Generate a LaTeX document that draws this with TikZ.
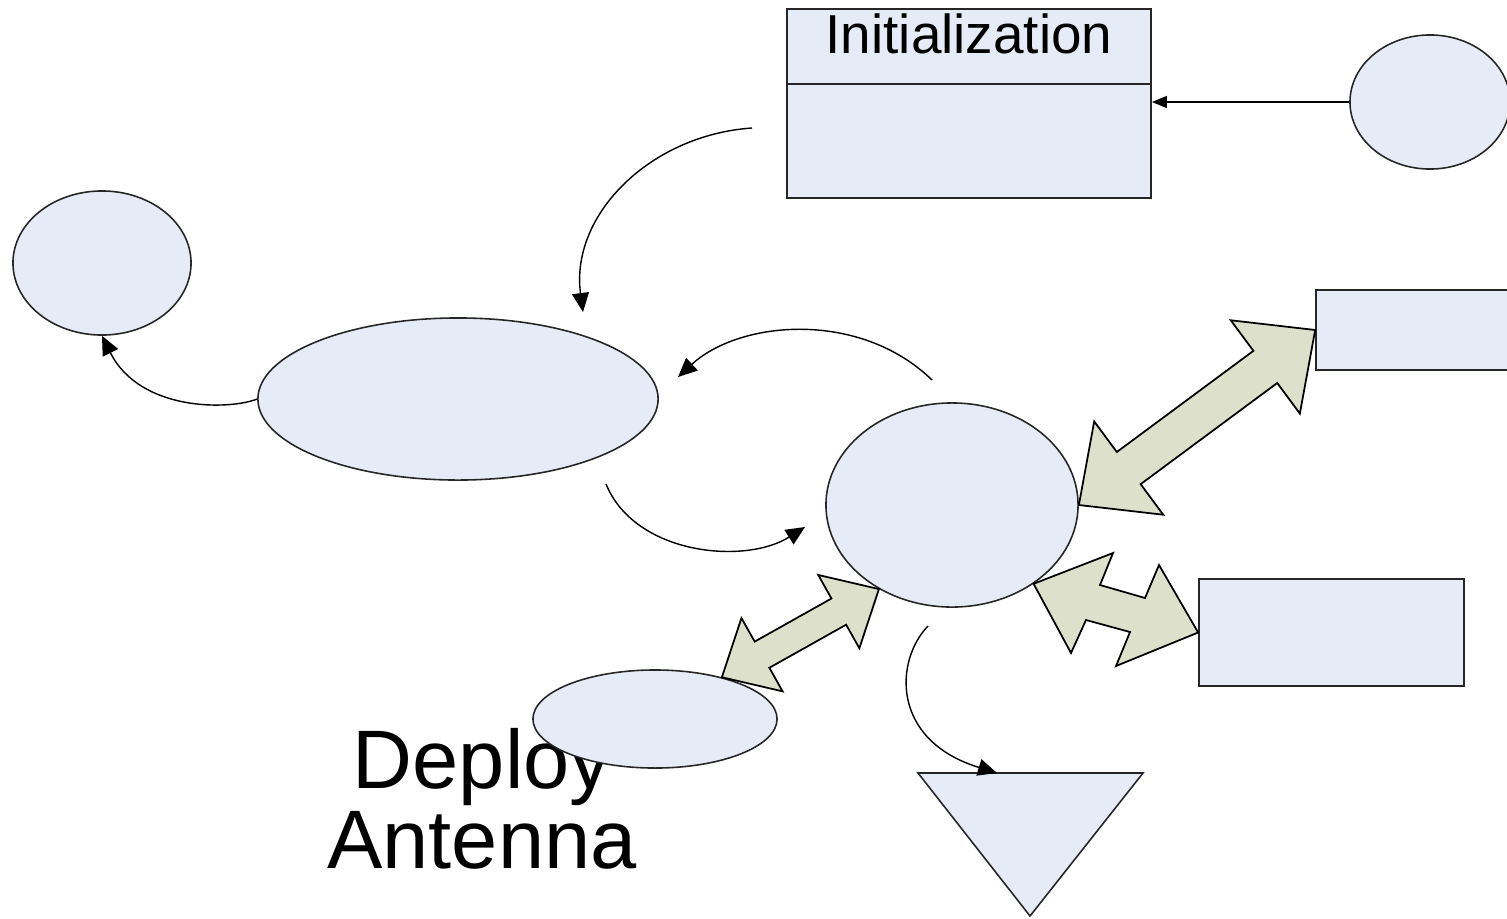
\documentclass[tikz,border=0pt]{standalone}
\usepackage{fontspec}
\setmainfont{Liberation Sans}
\usetikzlibrary{positioning,arrows.meta,shapes.geometric,calc}

\definecolor{boxfill}{RGB}{230,236,247}
\definecolor{blkfill}{RGB}{221,225,204}

% wide two-headed arrow: from, to, half shaft, half head, head length
\newcommand{\dblarrow}[5]{%
  \filldraw[blk] (#1)
    -- ($(#1)!#5!(#2)!#4!90:(#2)$)
    -- ($(#1)!#5!(#2)!#3!90:(#2)$)
    -- ($(#2)!#5!(#1)!#3!-90:(#1)$)
    -- ($(#2)!#5!(#1)!#4!-90:(#1)$)
    -- (#2)
    -- ($(#2)!#5!(#1)!#4!90:(#1)$)
    -- ($(#2)!#5!(#1)!#3!90:(#1)$)
    -- ($(#1)!#5!(#2)!#3!-90:(#2)$)
    -- ($(#1)!#5!(#2)!#4!-90:(#2)$)
    -- cycle;}

\begin{document}
\begin{tikzpicture}[x=0.01cm,y=-0.01cm,>={Triangle[length=0.19cm,width=0.17cm]},
  shp/.style={draw=black!85,fill=boxfill,line width=0.45pt},
  ell/.style={shp,ellipse,inner sep=0pt},
  box/.style={shp,rectangle,inner sep=0pt},
  blk/.style={draw=black,fill=blkfill,line width=0.5pt,line join=miter},
  con/.style={->,line width=0.4pt}]
\useasboundingbox (0,0) rectangle (1507,918);
\clip (0,0) rectangle (1507,918);

% shapes
\node[box,minimum width=3.64cm,minimum height=0.75cm] (inithead) at (969,46.5) {};
\node[anchor=base,inner sep=0pt,font=\fontsize{15.6}{18}\selectfont] (inittxt) at (969,54) {Initialization};
\node[box,minimum width=3.64cm,minimum height=1.14cm] (initbody) at (969,141) {};
\node[ell,minimum width=1.6cm,minimum height=1.34cm] (inp) at (1430,102) {};
\node[ell,minimum width=1.78cm,minimum height=1.44cm] (lft) at (102,263) {};
\node[ell,minimum width=4.0cm,minimum height=1.62cm] (mid) at (458,399) {};
\node[ell,minimum width=2.52cm,minimum height=2.04cm] (ctr) at (952,505) {};
\node[box,minimum width=2.0cm,minimum height=0.8cm] (tbox) at (1416,330) {};
\node[box,minimum width=2.65cm,minimum height=1.07cm] (mbox) at (1331.5,632.5) {};
\node[align=center,inner sep=0pt,font=\fontsize{23.6}{22.8}\selectfont] (deploy) at (482,799) {Deploy\\Antenna};
\node[ell,minimum width=2.44cm,minimum height=0.98cm] (ant) at (655,719) {};
\draw[shp] (918,773) coordinate (trl) -- (1143,773) coordinate (trr) -- (1030,916) coordinate (trb) -- cycle;

% thin connectors
\coordinate (a1s) at (752,128);
\coordinate (a1e) at (583,312);
\coordinate (a3s) at (932,380);
\coordinate (a3e) at (678,377);
\coordinate (a4s) at (606,484);
\coordinate (a4e) at (805,527);
\coordinate (a5s) at (928,626);
\coordinate (a5e) at (997,773);
\draw[->,>={Triangle[length=0.15cm,width=0.12cm]}] (inp.west) -- (inp.west -| initbody.east);
\draw[con] (a1s) .. controls (650,135) and (570,215) .. (a1e);
\draw[con] (mid.west) .. controls (230,410) and (140,412) .. (lft.south);
\draw[con] (a3s) .. controls (860,310) and (740,320) .. (a3e);
\draw[con] (a4s) .. controls (635,555) and (745,565) .. (a4e);
\draw[con] (a5s) .. controls (895,660) and (890,740) .. (a5e);

% wide arrows
\dblarrow{ctr.east}{tbox.west}{0.2cm}{0.58cm}{0.62cm}
\dblarrow{ant.32}{ctr.229}{0.15cm}{0.42cm}{0.46cm}
\filldraw[blk] (ctr.316) -- (1113,553) -- (1100,585) -- (1145,598) -- (1159,565)
  -- (mbox.west) -- (1116,666) -- (1130,632) -- (1086,620) -- (1071,653) -- cycle;
\end{tikzpicture}
\end{document}
